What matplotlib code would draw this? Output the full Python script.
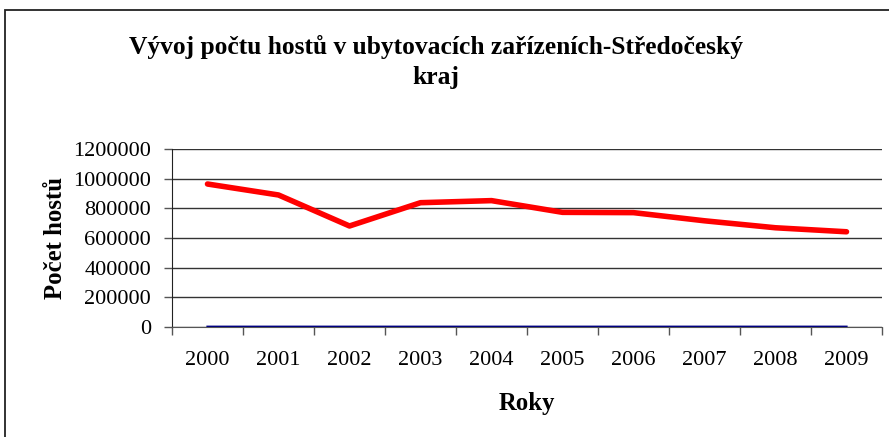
import matplotlib.pyplot as plt
from matplotlib.patches import Rectangle
import numpy as np

plt.rcParams['font.family'] = ['Liberation Serif', 'DejaVu Serif']

roky = ['2000', '2001', '2002', '2003', '2004', '2005', '2006', '2007', '2008', '2009']
pocet_hostu = [964000, 890000, 681000, 838000, 852000, 773000, 771000, 716000, 669000, 642000]
rada_roky = [2000, 2001, 2002, 2003, 2004, 2005, 2006, 2007, 2008, 2009]

fig = plt.figure(figsize=(8.89, 4.37), dpi=100)
fig.patches.append(Rectangle((5 / 889, -0.1), 1.2, 1 - 10 / 437 + 0.1,
                             transform=fig.transFigure, fill=False,
                             edgecolor='#222222', linewidth=1.3))

ax = fig.add_axes([172 / 889, 110 / 437, 710 / 889, 178 / 437])
x = np.arange(len(roky))
ax.plot(x, rada_roky, color='#000080', linewidth=1.6, zorder=3)
ax.plot(x, pocet_hostu, color='#ff0000', linewidth=4, zorder=4,
        solid_joinstyle='round', solid_capstyle='round')

ax.set_xlim(-0.5, len(roky) - 0.5)
ax.set_ylim(0, 1200000)
ax.set_yticks(np.arange(0, 1200001, 200000))
ax.set_yticklabels([str(v) for v in range(0, 1200001, 200000)])
ax.set_xticks(x)
ax.set_xticklabels(roky)
ax.set_xticks(np.arange(-0.5, len(roky), 1), minor=True)
ax.tick_params(axis='x', which='major', length=0, pad=17, labelsize=16)
ax.tick_params(axis='x', which='minor', length=6, width=1, color='#555555')
ax.tick_params(axis='y', length=6, width=1, color='#555555', labelsize=16, pad=9)
ax.grid(axis='y', color='#333333', linewidth=1)
ax.spines['top'].set_visible(False)
ax.spines['right'].set_visible(False)
ax.spines['left'].set_color('#222222')
ax.spines['bottom'].set_color('#555555')

ax.set_xlabel('Roky', fontsize=17.8, fontweight='bold', labelpad=16)
ax.set_ylabel('Počet hostů', fontsize=17.8, fontweight='bold', labelpad=4.5)

fig.text(0.49, 1 - 62 / 437, 'Vývoj počtu hostů v ubytovacích zařízeních-Středočeský\nkraj',
         ha='center', va='center', fontsize=18.4, fontweight='bold',
         linespacing=1.4)

fig.savefig('out.png', dpi=100)
